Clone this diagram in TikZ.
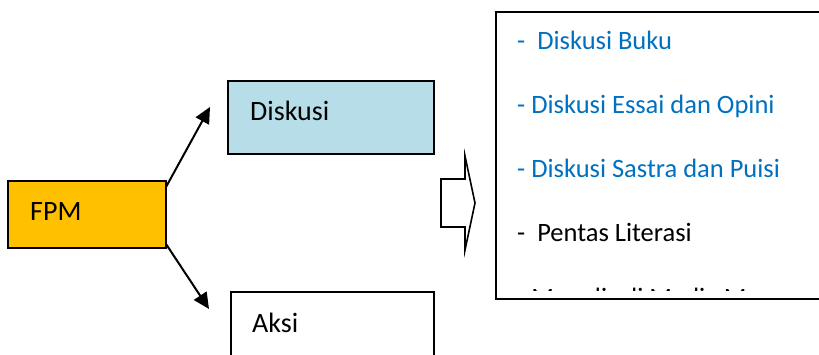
\documentclass[tikz,border=0pt]{standalone}
\usepackage{fontspec}
\setmainfont{Carlito}
\usetikzlibrary{arrows.meta}
\definecolor{fpmorange}{HTML}{FFC000}
\definecolor{lightblue}{HTML}{B7DEE8}
\definecolor{itemblue}{HTML}{0070C0}
\tikzset{
  boxframe/.style={draw=black, line width=1.5pt, inner sep=0pt, outer sep=0pt, anchor=north west},
  boxtext/.style={anchor=base west, inner sep=0pt, font=\fontsize{28}{32}\selectfont},
  itemtext/.style={anchor=base west, inner sep=0pt, font=\fontsize{26.5}{30}\selectfont},
  link/.style={line width=2pt, -{Triangle[length=16pt,width=15pt]}},
  blockarrow/.style={draw=black, line width=1.6pt, line join=miter, fill=white},
}
\begin{document}
\begin{tikzpicture}[x=1pt, y=-1pt]
  \clip (0,0) rectangle (819,354);
  \fill[white] (0,0) rectangle (819,354);

  % left-hand boxes
  \node[boxframe, fill=fpmorange, minimum width=158pt, minimum height=67pt] (fpm) at (8,181) {};
  \node[boxtext] (fpmlabel) at (30,220) {FPM};

  \node[boxframe, fill=lightblue, minimum width=206pt, minimum height=73pt] (diskusi) at (228,81) {};
  \node[boxtext] (diskusilabel) at (250,120) {Diskusi};

  \node[boxframe, fill=white, minimum width=203pt, minimum height=80pt] (aksi) at (231,292) {};
  \node[boxtext] (aksilabel) at (252,332) {Aksi};

  % branching arrows
  \coordinate (tipup) at (210,107);
  \coordinate (tipdown) at (209,309);
  \draw[link] ([yshift=-6pt]fpm.north east) -- (tipup);
  \draw[link] ([yshift=4pt]fpm.south east) -- (tipdown);

  % block arrow pointing to the list
  \draw[blockarrow] (441,179) -- (465,179) -- (465,156) -- (475,203)
    -- (465,250) -- (465,227) -- (441,227) -- cycle;

  % list of activities
  \node[boxframe, fill=white, line width=2pt, minimum width=340pt, minimum height=287pt] (list) at (496,12) {};
  \node[itemtext, text=itemblue] (i1) at (517,49) {-\ \ Diskusi Buku};
  \node[itemtext, text=itemblue] (i2) at (517,113) {- Diskusi Essai dan Opini};
  \node[itemtext, text=itemblue] (i3) at (517,177) {- Diskusi Sastra dan Puisi};
  \node[itemtext] (i4) at (517,241) {-\ \ Pentas Literasi};
  \begin{scope}
    \clip (498,14) rectangle (819,290.5);
    \node[itemtext] (i5) at (517,306) {- Menulis di Media Massa};
  \end{scope}
\end{tikzpicture}
\end{document}
